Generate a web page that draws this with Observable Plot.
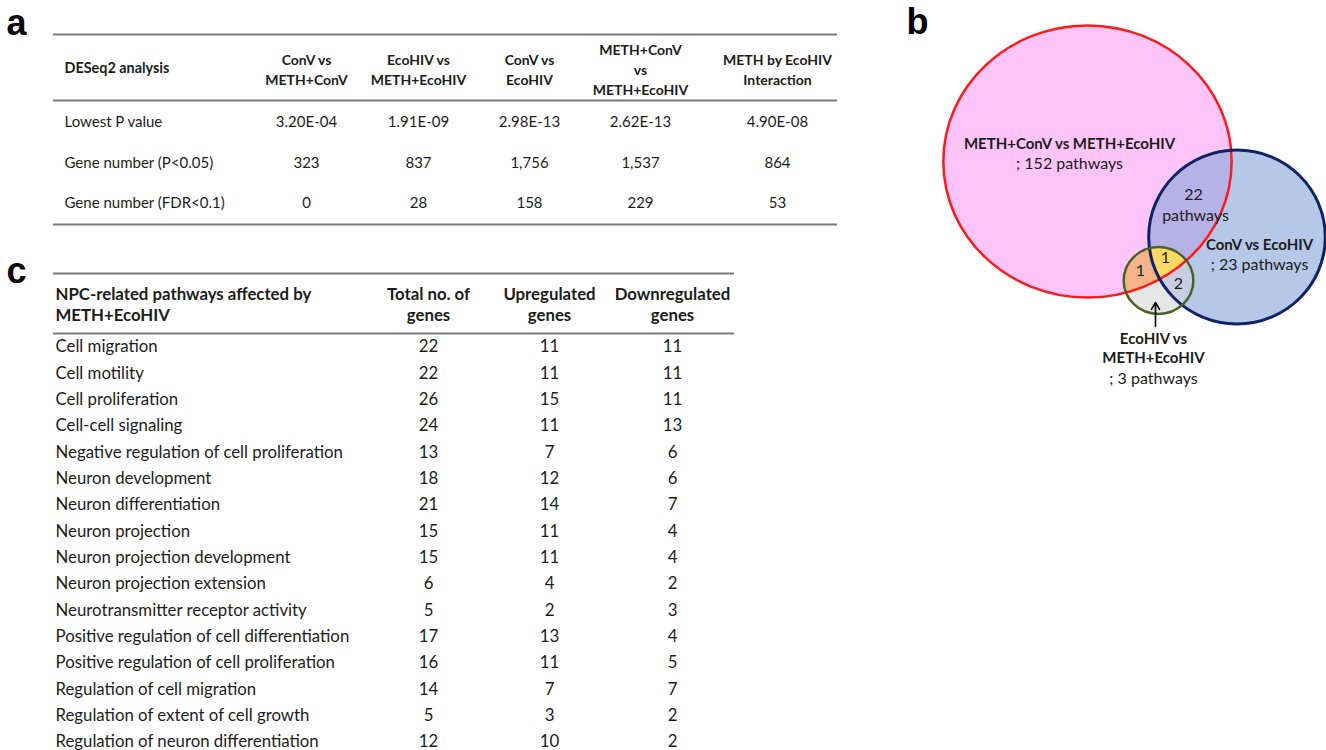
<!DOCTYPE html>
<html>
<head>
<meta charset="utf-8">
<script src="https://cdn.jsdelivr.net/npm/d3@7"></script>
<script src="https://cdn.jsdelivr.net/npm/@observablehq/plot@0.6"></script>
<style>
  body { margin: 0; background: #fff; }
  #chart { width: 1326px; height: 750px; }
</style>
</head>
<body>
<div id="chart"></div>
<script>
// ---------------- DATA ----------------
// Panel a: DESeq2 summary
const deseqHeader = "DESeq2 analysis";
const comparisons = [
  "ConV vs\nMETH+ConV",
  "EcoHIV vs\nMETH+EcoHIV",
  "ConV vs\nEcoHIV",
  "METH+ConV\nvs\nMETH+EcoHIV",
  "METH by EcoHIV\nInteraction"
];
const metrics = ["Lowest P value", "Gene number (P<0.05)", "Gene number (FDR<0.1)"];
const lowestP = [3.20e-4, 1.91e-9, 2.98e-13, 2.62e-13, 4.90e-8];
const genesP05 = [323, 837, 1756, 1537, 864];
const genesFDR = [0, 28, 158, 229, 53];

// Panel b: Venn diagram of pathways
const vennSets = ["METH+ConV vs METH+EcoHIV", "ConV vs EcoHIV", "EcoHIV vs\nMETH+EcoHIV"];
const vennTotals = [152, 23, 3];
const overlapRedBlue = 22;     // METH+ConV ∩ ConV only
const overlapRedGreen = 1;     // METH+ConV ∩ EcoHIV only
const overlapAll = 1;          // all three
const overlapBlueGreen = 2;    // ConV ∩ EcoHIV only

// Panel c: NPC-related pathways
const pathwayHeader = "NPC-related pathways affected by\nMETH+EcoHIV";
const geneColumns = ["Total no. of\ngenes", "Upregulated\ngenes", "Downregulated\ngenes"];
const pathways = [
  "Cell migration", "Cell motility", "Cell proliferation", "Cell-cell signaling",
  "Negative regulation of cell proliferation", "Neuron development", "Neuron differentiation",
  "Neuron projection", "Neuron projection development", "Neuron projection extension",
  "Neurotransmitter receptor activity", "Positive regulation of cell differentiation",
  "Positive regulation of cell proliferation", "Regulation of cell migration",
  "Regulation of extent of cell growth", "Regulation of neuron differentiation"
];
const totalGenes = [22, 22, 26, 24, 13, 18, 21, 15, 15, 6, 5, 17, 16, 14, 5, 12];
const upGenes    = [11, 11, 15, 11, 7, 12, 14, 11, 11, 4, 2, 13, 11, 7, 3, 10];
const downGenes  = [11, 11, 11, 13, 6, 6, 7, 4, 4, 2, 3, 4, 5, 7, 2, 2];

// ---------------- LAYOUT (page geometry, not data) ----------------
const W = 1326, H = 750;
const FONT = "Lato, 'Open Sans', sans-serif";
const INK = "#1c1c1c";
const RULE = "#7b7b7b";
const A = { left: 53, right: 837, labelX: 64, colX: [306, 418, 529, 640, 777],
            headY: 68, rowY: [122, 163, 203], rules: [34, 100, 224] };
const C = { left: 53, right: 734, labelX: 55, colX: [428, 549, 672],
            headY: 303.5, firstRow: 346.5, step: 26.33, rules: [273, 333] };
const V = { red: {x: 1087, y: 161, r: 136, aspect: 1.06},
            blue: {x: 1236.5, y: 236.5, r: 87, aspect: 1.015},
            green: {x: 1158, y: 280, r: 33.5, aspect: 1.04} };

// ---------------- helpers ----------------
const fmtE = v => {
  const [m, e] = v.toExponential(2).split("e");
  const s = e[0] === "-" ? "-" : "+";
  return `${m}E${s}${String(Math.abs(+e)).padStart(2, "0")}`;
};
const fmtN = d3.format(",");

function ellipseSymbol(aspect) {
  return {
    draw(ctx, size) {
      const ry = Math.sqrt(size / Math.PI), rx = ry * aspect, k = 0.5522847;
      ctx.moveTo(rx, 0);
      ctx.bezierCurveTo(rx, ry * k, rx * k, ry, 0, ry);
      ctx.bezierCurveTo(-rx * k, ry, -rx, ry * k, -rx, 0);
      ctx.bezierCurveTo(-rx, -ry * k, -rx * k, -ry, 0, -ry);
      ctx.bezierCurveTo(rx * k, -ry, rx, -ry * k, rx, 0);
      ctx.closePath();
    }
  };
}
const shape = (c, tag, opts) => Plot.dot([c], {x: "x", y: "y", r: c.r, symbol: ellipseSymbol(c.aspect),
  ariaDescription: tag, ...opts});

// ---------------- build table rows ----------------
const aCells = [];
[lowestP.map(fmtE), genesP05.map(fmtN), genesFDR.map(fmtN)].forEach((vals, i) =>
  vals.forEach((v, j) => aCells.push({x: A.colX[j], y: A.rowY[i], text: v})));
const aLabels = metrics.map((m, i) => ({x: A.labelX, y: A.rowY[i], text: m}));
const aHeads = comparisons.map((c, j) => ({x: A.colX[j], y: A.headY, text: c}));

const cRows = pathways.map((p, i) => ({y: C.firstRow + i * C.step, label: p,
  vals: [totalGenes[i], upGenes[i], downGenes[i]]}));
const cCells = cRows.flatMap(r => r.vals.map((v, j) => ({x: C.colX[j], y: r.y, text: String(v)})));
const cHeads = geneColumns.map((c, j) => ({x: C.colX[j], y: C.headY, text: c}));

// Venn labels
const vennBold = [
  {x: 1069, y: 142, text: vennSets[0]},
  {x: 1259, y: 243, text: vennSets[1]},
  {x: 1153, y: 347, text: vennSets[2]}
];
const vennPlain = [
  {x: 1069, y: 163, text: `; ${vennTotals[0]} pathways`},
  {x: 1193, y: 194, text: String(overlapRedBlue)},
  {x: 1195, y: 215, text: "pathways"},
  {x: 1259, y: 264, text: `; ${vennTotals[1]} pathways`},
  {x: 1140, y: 270, text: String(overlapRedGreen)},
  {x: 1165, y: 257, text: String(overlapAll)},
  {x: 1178, y: 283, text: String(overlapBlueGreen)},
  {x: 1153, y: 378, text: `; ${vennTotals[2]} pathways`}
];

const txt = (data, o) => Plot.text(data, {x: "x", y: "y", text: "text", fill: INK,
  fontFamily: FONT, lineAnchor: "middle", ...o});

const chart = Plot.plot({
  width: W, height: H,
  margin: 0,
  x: {domain: [0, W], range: [0, W], axis: null},
  y: {domain: [0, H], range: [0, H], axis: null},
  style: {background: "#fff"},
  marks: [
    // panel letters
    Plot.text([{x: 16, y: 23, t: "a"}, {x: 917, y: 22, t: "b"}, {x: 16, y: 271, t: "c"}],
      {x: "x", y: "y", text: "t", fontFamily: "'Liberation Sans', Arial, sans-serif",
       fontWeight: "bold", fontSize: 36, fill: "#000", lineAnchor: "middle"}),

    // ---- panel a ----
    Plot.ruleY(A.rules, {x1: A.left, x2: A.right, stroke: RULE, strokeWidth: 2}),
    txt([{x: A.labelX, y: A.headY, text: deseqHeader}], {textAnchor: "start", fontWeight: "bold", fontSize: 14.4}),
    txt(aHeads, {fontWeight: "bold", fontSize: 14, lineHeight: 1.45}),
    txt(aLabels, {textAnchor: "start", fontSize: 15}),
    txt(aCells, {fontSize: 15}),

    // ---- panel c ----
    Plot.ruleY(C.rules, {x1: C.left, x2: C.right, stroke: RULE, strokeWidth: 2}),
    txt([{x: C.labelX, y: C.headY, text: pathwayHeader}], {textAnchor: "start", fontWeight: "bold", fontSize: 16.8, lineHeight: 1.25}),
    txt(cHeads, {fontWeight: "bold", fontSize: 16.8, lineHeight: 1.25}),
    Plot.text(cRows, {x: C.labelX, y: "y", text: "label", textAnchor: "start", fontFamily: FONT,
      fontSize: 16.8, fill: INK, lineAnchor: "middle"}),
    txt(cCells, {fontSize: 16.8}),

    // ---- panel b: Venn ----
    shape(V.red, "venn-red", {fill: "rgb(255,197,250)"}),
    shape(V.blue, "venn-blue", {fill: "rgb(181,200,232)"}),
    shape(V.blue, "venn-red-blue", {fill: "rgb(182,177,230)"}),
    shape(V.green, "venn-green", {fill: "rgb(230,230,230)"}),
    shape(V.green, "venn-green-red", {fill: "rgb(244,180,138)"}),
    shape(V.green, "venn-green-blue", {fill: "rgb(200,205,226)"}),
    shape(V.green, "venn-green-all", {fill: "rgb(255,217,102)"}),
    shape(V.red, "venn-red-stroke", {fill: "none", stroke: "#ff1a1a", strokeWidth: 2.5}),
    shape(V.blue, "venn-blue-stroke", {fill: "none", stroke: "#0f2466", strokeWidth: 3}),
    shape(V.green, "venn-green-stroke", {fill: "none", stroke: "#4a6228", strokeWidth: 2.5}),
    Plot.arrow([{x1: 1155, y1: 326, x2: 1155, y2: 302}], {x1: "x1", y1: "y1", x2: "x2", y2: "y2",
      stroke: "#000", strokeWidth: 1.6, headLength: 8}),
    txt(vennBold, {fontWeight: "bold", fontSize: 15, lineHeight: 1.3}),
    txt(vennPlain, {fontSize: 16})
  ]
});

document.getElementById("chart").appendChild(chart);

// ---- region clipping for the Venn overlaps (reuse the shapes drawn by Plot) ----
try {
  const root = chart.tagName.toLowerCase() === "svg" ? chart : chart.querySelector("svg");
  const svg = d3.select(root);
  const defs = svg.insert("defs", ":first-child");
  const byTag = tag => svg.select(`g[aria-description="${tag}"]`);
  function makeClip(id, tag) {
    const cp = defs.append("clipPath").attr("id", id);
    const g = byTag(tag);
    if (g.empty()) return;
    const t = g.attr("transform") || "";
    g.selectAll("path,circle").each(function() {
      const c = this.cloneNode(true);
      c.setAttribute("transform", `${t} ${this.getAttribute("transform") || ""}`.trim());
      cp.node().appendChild(c);
    });
  }
  makeClip("clipRed", "venn-red");
  makeClip("clipBlue", "venn-blue");
  // clip groups: move mark content into a plain wrapper so clip coordinates are page coordinates
  function clipMark(tag, ids) {
    const g = byTag(tag);
    if (g.empty()) return;
    let node = g.node();
    const t = g.attr("transform");
    if (t) { // bake group transform into children
      g.selectAll("path,circle").each(function() {
        this.setAttribute("transform", `${t} ${this.getAttribute("transform") || ""}`.trim());
      });
      g.attr("transform", null);
    }
    ids.forEach((id, k) => {
      if (k === 0) { g.attr("clip-path", `url(#${id})`); return; }
      const wrap = document.createElementNS("http://www.w3.org/2000/svg", "g");
      wrap.setAttribute("clip-path", `url(#${id})`);
      node.parentNode.insertBefore(wrap, node);
      wrap.appendChild(node);
      node = wrap;
    });
  }
  clipMark("venn-red-blue", ["clipRed"]);
  clipMark("venn-green-red", ["clipRed"]);
  clipMark("venn-green-blue", ["clipBlue"]);
  clipMark("venn-green-all", ["clipBlue", "clipRed"]);
} catch (e) { console.error(e); }
</script>
</body>
</html>
